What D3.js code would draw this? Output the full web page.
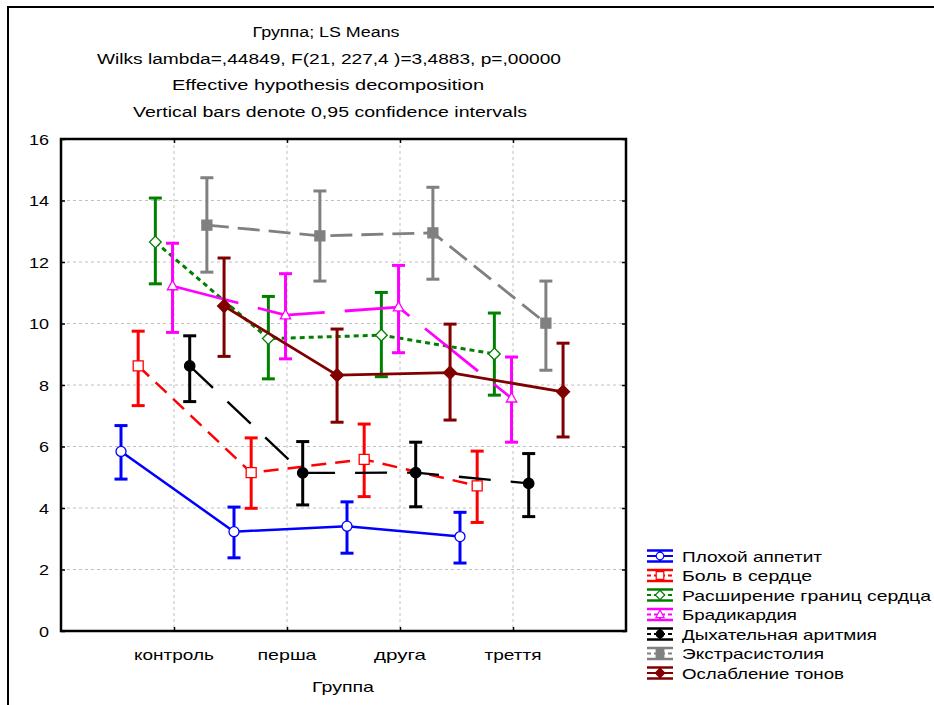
<!DOCTYPE html>
<html><head><meta charset="utf-8">
<script src="https://cdn.jsdelivr.net/npm/d3@7"></script>
<style>body{margin:0;background:#fff}text{font-family:"Liberation Sans",Arial,sans-serif;fill:#000}</style>
</head><body>
<svg id="chart" width="934" height="705"></svg>
<script>
const categories = ["контроль", "перша", "друга", "треття"];
const seriesNames = ["Плохой аппетит", "Боль в сердце", "Расширение границ сердца", "Брадикардия", "Дыхательная аритмия", "Экстрасистолия", "Ослабление тонов"];
const seriesColors = ["#0000ff", "#ff0000", "#008000", "#ff00ff", "#000000", "#808080", "#800000"];
const meanValues = [
  [5.84, 3.23, 3.41, 3.07],
  [8.62, 5.15, 5.58, 4.72],
  [12.65, 9.51, 9.62, 9.01],
  [11.22, 10.27, 10.53, 7.57],
  [8.62, 5.14, 5.15, 4.80],
  [13.20, 12.85, 12.95, 10.01],
  [10.57, 8.32, 8.40, 7.78]
];
const lowerValues = [
  [4.94, 2.38, 2.53, 2.21],
  [7.33, 3.99, 4.37, 3.53],
  [11.29, 8.20, 8.27, 7.67],
  [9.71, 8.85, 9.05, 6.14],
  [7.46, 4.10, 4.04, 3.72],
  [11.67, 11.38, 11.44, 8.48],
  [8.93, 6.79, 6.86, 6.31]
];
const upperValues = [
  [6.68, 4.03, 4.20, 3.86],
  [9.75, 6.28, 6.73, 5.85],
  [14.08, 10.88, 11.01, 10.34],
  [12.61, 11.62, 11.89, 8.91],
  [9.60, 6.16, 6.14, 5.77],
  [14.74, 14.31, 14.43, 11.38],
  [12.13, 9.82, 9.98, 9.36]
];
const yTicks = [0, 2, 4, 6, 8, 10, 12, 14, 16];
const titleLines = ["Группа; LS Means", "Wilks lambda=,44849, F(21, 227,4 )=3,4883, p=,00000", "Effective hypothesis decomposition", "Vertical bars denote 0,95 confidence intervals"];
const xAxisTitle = "Группа";

// styles (not data)
const dashes = [null, "15,9", "5,4", "68,20", "32,20", "22,9", null];
const lineWidths = [2.5, 2.5, 3, 2.8, 2.3, 2.8, 2.8];
const markerTypes = ["circle", "square", "diamond", "triangle", "circle", "square", "diamond"];
const markerFilled = [false, false, false, false, true, true, true];

const svg = d3.select("#chart");
const L = 61, R = 626, T = 139, B = 631;
const x = d3.scaleLinear().domain([-1, 4]).range([L, R]);
const y = d3.scaleLinear().domain([0, 16]).range([B, T]);
const off = k => (k - 3) * 0.152 - 0.013;

// outer frame (top and left edges)
svg.append("path").attr("d", "M8,705 L8,7 L934,7").attr("fill", "none").attr("stroke", "#000").attr("stroke-width", 2);

// titles
const titleW = [147, 464, 312, 394];
const titleX = [326, 329, 328, 330];
const titleY = [37, 63.5, 90, 116.5];
titleLines.forEach((t, i) => {
  svg.append("text").attr("x", titleX[i]).attr("y", titleY[i]).attr("text-anchor", "middle")
    .attr("font-size", 14).attr("textLength", titleW[i]).attr("lengthAdjust", "spacingAndGlyphs").text(t);
});

// grid
const g = svg.append("g");
g.selectAll(".gy").data(yTicks.filter(v => v > 0 && v < 16)).join("line")
  .attr("x1", L).attr("x2", R).attr("y1", d => y(d)).attr("y2", d => y(d))
  .attr("stroke", "#c0c0c0").attr("stroke-width", 1).attr("stroke-dasharray", "3,3");
g.selectAll(".gx").data(categories).join("line")
  .attr("x1", (d, i) => x(i)).attr("x2", (d, i) => x(i)).attr("y1", T).attr("y2", B)
  .attr("stroke", "#c0c0c0").attr("stroke-width", 1).attr("stroke-dasharray", "3,3");

// axes with D3 (ticks inside)
const yAxisL = d3.axisLeft(y).tickValues(yTicks).tickSize(-4).tickFormat("");
const yAxisR = d3.axisRight(y).tickValues(yTicks).tickSize(-4).tickFormat("");
const xAxisB = d3.axisBottom(x).tickValues([0, 1, 2, 3]).tickSize(-4).tickFormat("");
const xAxisT = d3.axisTop(x).tickValues([0, 1, 2, 3]).tickSize(-4).tickFormat("");
[[yAxisL, `translate(${L},0)`], [yAxisR, `translate(${R},0)`], [xAxisB, `translate(0,${B})`], [xAxisT, `translate(0,${T})`]].forEach(([ax, tr]) => {
  const a = svg.append("g").attr("transform", tr).call(ax);
  a.select(".domain").remove();
  a.selectAll("line").attr("stroke", "#000").attr("stroke-width", 1.5);
});

// y labels
yTicks.forEach(v => {
  const s = String(v);
  svg.append("text").attr("x", 49).attr("y", y(v) + 5.5).attr("text-anchor", "end").attr("font-size", 15)
    .attr("textLength", s.length * 10).attr("lengthAdjust", "spacingAndGlyphs").text(s);
});
// x labels
const catW = [80, 59, 52, 57];
categories.forEach((c, i) => {
  svg.append("text").attr("x", x(i)).attr("y", 660).attr("text-anchor", "middle").attr("font-size", 15)
    .attr("textLength", catW[i]).attr("lengthAdjust", "spacingAndGlyphs").text(c);
});
svg.append("text").attr("x", 343).attr("y", 692).attr("text-anchor", "middle").attr("font-size", 15)
  .attr("textLength", 62).attr("lengthAdjust", "spacingAndGlyphs").text(xAxisTitle);

// marker path
function markerPath(type, s) {
  if (type === "circle") return d3.symbol(d3.symbolCircle, Math.PI * s * s)();
  if (type === "square") return `M${-s},${-s}H${s}V${s}H${-s}Z`;
  if (type === "diamond") return `M0,${-s * 1.25}L${s * 1.25},0L0,${s * 1.25}L${-s * 1.25},0Z`;
  if (type === "triangle") return `M0,${-s * 1.2}L${s * 1.1},${s * 0.8}L${-s * 1.1},${s * 0.8}Z`;
}
const markerSize = [5, 5, 4.7, 4.7, 5.2, 5, 5.2];

// series
const plot = svg.append("g");
seriesNames.forEach((name, k) => {
  const col = seriesColors[k];
  const gs = plot.append("g");
  const pts = meanValues[k].map((v, i) => [x(i + off(k)), y(v)]);
  // error bars
  meanValues[k].forEach((v, i) => {
    const cx = x(i + off(k));
    gs.append("line").attr("x1", cx).attr("x2", cx).attr("y1", y(lowerValues[k][i])).attr("y2", y(upperValues[k][i]))
      .attr("stroke", col).attr("stroke-width", 3);
    [lowerValues[k][i], upperValues[k][i]].forEach(e => {
      gs.append("line").attr("x1", cx - 6.5).attr("x2", cx + 6.5).attr("y1", y(e)).attr("y2", y(e))
        .attr("stroke", col).attr("stroke-width", 3);
    });
  });
  gs.append("path").attr("d", d3.line()(pts)).attr("fill", "none").attr("stroke", col)
    .attr("stroke-width", lineWidths[k]).attr("stroke-dasharray", dashes[k]);
  pts.forEach(p => {
    gs.append("path").attr("d", markerPath(markerTypes[k], markerSize[k])).attr("transform", `translate(${p[0]},${p[1]})`)
      .attr("fill", markerFilled[k] ? col : "#fff").attr("stroke", col).attr("stroke-width", 1.3);
  });
});

// plot frame
svg.append("rect").attr("x", L).attr("y", T).attr("width", R - L).attr("height", B - T)
  .attr("fill", "none").attr("stroke", "#000").attr("stroke-width", 2.5);

// legend
const legW = [140, 130, 249, 115, 195, 142, 162];
seriesNames.forEach((name, k) => {
  const cy = 556 + k * 19.5, col = seriesColors[k];
  const lg = svg.append("g");
  [cy - 5.5, cy + 5.5].forEach(yy => lg.append("line").attr("x1", 647).attr("x2", 673).attr("y1", yy).attr("y2", yy).attr("stroke", col).attr("stroke-width", 2.5));
  lg.append("line").attr("x1", 647).attr("x2", 673).attr("y1", cy).attr("y2", cy).attr("stroke", col).attr("stroke-width", 2).attr("stroke-dasharray", dashes[k] ? "4,3" : null);
  lg.append("line").attr("x1", 660).attr("x2", 660).attr("y1", cy - 5.5).attr("y2", cy + 5.5).attr("stroke", col).attr("stroke-width", 2);
  lg.append("path").attr("d", markerPath(markerTypes[k], 3.8)).attr("transform", `translate(660,${cy})`)
    .attr("fill", markerFilled[k] ? col : "#fff").attr("stroke", col).attr("stroke-width", 1.2);
  lg.append("text").attr("x", 682).attr("y", cy + 5.5).attr("font-size", 15)
    .attr("textLength", legW[k]).attr("lengthAdjust", "spacingAndGlyphs").text(name);
});
</script>
</body></html>
